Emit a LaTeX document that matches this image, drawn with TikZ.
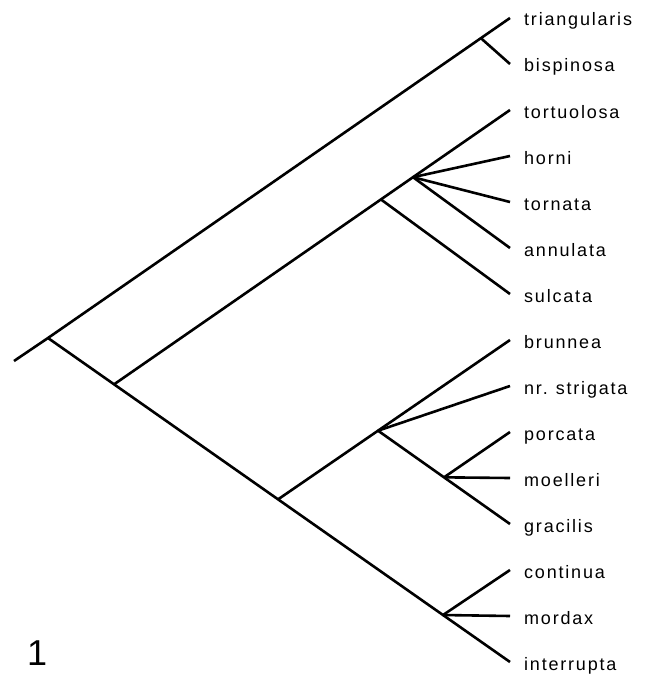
\documentclass[tikz,border=0pt]{standalone}
\usepackage{fontspec}
\setmainfont{Liberation Sans}
\newfontfamily\taxonfont[LetterSpace=10]{Liberation Sans}
\usetikzlibrary{positioning,calc}

\begin{document}
\begin{tikzpicture}[
    x=1pt,
    y=-1pt,
    branch/.style={
        draw,
        line width=2.6pt
    },
    taxon/.style={
        anchor=base west,
        inner sep=0pt,
        font=\taxonfont\fontsize{18}{21}\selectfont
    },
    figlabel/.style={
        anchor=base west,
        inner sep=0pt,
        font=\fontsize{36}{40}\selectfont
    }
]
    \useasboundingbox (0,0) rectangle (651,674);

    % Tips
    \coordinate (t_tri) at (510,18);
    \coordinate (t_bis) at (510,64);
    \coordinate (t_tor) at (510,110);
    \coordinate (t_hor) at (510,156);
    \coordinate (t_trn) at (510,202);
    \coordinate (t_ann) at (510,248);
    \coordinate (t_sul) at (510,294);
    \coordinate (t_bru) at (510,340);
    \coordinate (t_str) at (510,386);
    \coordinate (t_por) at (510,432);
    \coordinate (t_moe) at (510,478);
    \coordinate (t_gra) at (510,524);
    \coordinate (t_con) at (510,570);
    \coordinate (t_mor) at (510,616);
    \coordinate (t_int) at (510,662);

    % Taxon names
    \node [taxon] (tri) at ($(t_tri)+(14,8)$) {triangularis};
    \node [taxon] (bis) at ($(t_bis)+(14,8)$) {bispinosa};
    \node [taxon] (tor) at ($(t_tor)+(14,8)$) {tortuolosa};
    \node [taxon] (hor) at ($(t_hor)+(14,8)$) {horni};
    \node [taxon] (trn) at ($(t_trn)+(14,8)$) {tornata};
    \node [taxon] (ann) at ($(t_ann)+(14,8)$) {annulata};
    \node [taxon] (sul) at ($(t_sul)+(14,8)$) {sulcata};
    \node [taxon] (bru) at ($(t_bru)+(14,8)$) {brunnea};
    \node [taxon] (str) at ($(t_str)+(14,8)$) {nr.\hspace{8pt}strigata};
    \node [taxon] (por) at ($(t_por)+(14,8)$) {porcata};
    \node [taxon] (moe) at ($(t_moe)+(14,8)$) {moelleri};
    \node [taxon] (gra) at ($(t_gra)+(14,8)$) {gracilis};
    \node [taxon] (con) at ($(t_con)+(14,8)$) {continua};
    \node [taxon] (mor) at ($(t_mor)+(14,8)$) {mordax};
    \node [taxon] (int) at ($(t_int)+(14,8)$) {interrupta};

    % Root and internal nodes
    \coordinate (root) at (48,338);
    \coordinate (stub) at (14,361);
    \coordinate (n_tb) at ($(root)!0.937!(t_tri)$);
    \coordinate (n_b) at ($(root)!0.143!(t_int)$);
    \coordinate (n_c) at ($(root)!0.498!(t_int)$);
    \coordinate (n_f) at ($(root)!0.855!(t_int)$);
    \coordinate (n_d) at ($(n_b)!0.674!(t_tor)$);
    \coordinate (n_e) at ($(n_b)!0.755!(t_tor)$);
    \coordinate (n_g) at ($(n_c)!0.431!(t_bru)$);
    \coordinate (n_h) at ($(n_g)!0.5!(t_gra)$);

    % Branches
    \path [branch] (stub) -- (root) -- (t_tri);
    \path [branch] (n_tb) -- (t_bis);
    \path [branch] (root) -- (t_int);
    \path [branch] (n_b) -- (t_tor);
    \path [branch] (n_d) -- (t_sul);
    \path [branch] (n_e) -- (t_hor);
    \path [branch] (n_e) -- (t_trn);
    \path [branch] (n_e) -- (t_ann);
    \path [branch] (n_c) -- (t_bru);
    \path [branch] (n_g) -- (t_str);
    \path [branch] (n_g) -- (t_gra);
    \path [branch] (n_h) -- (t_por);
    \path [branch] (n_h) -- (t_moe);
    \path [branch] (n_f) -- (t_con);
    \path [branch] (n_f) -- (t_mor);

    % Figure number
    \node [figlabel] (fig) at (27,665) {1};

\end{tikzpicture}
\end{document}
